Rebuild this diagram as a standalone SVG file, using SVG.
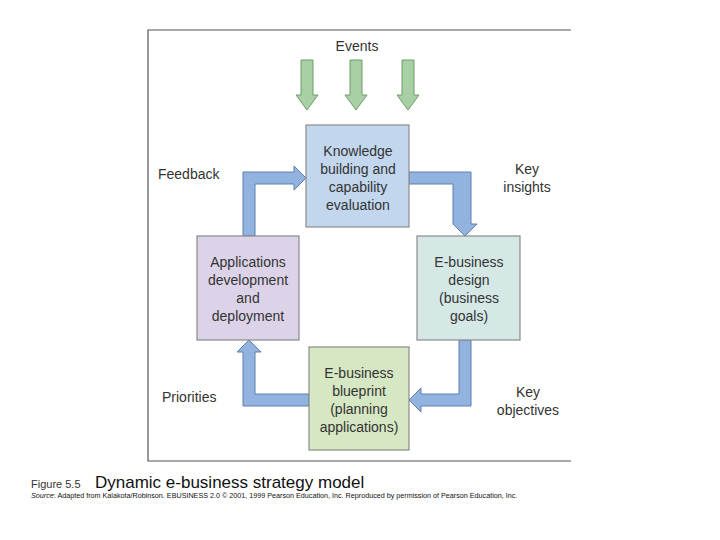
<svg xmlns="http://www.w3.org/2000/svg" width="720" height="540" viewBox="0 0 720 540">
<style>
text{font-family:"Liberation Sans",Arial,sans-serif;fill:#333}
.n{font-size:14px;text-anchor:middle}
.l{font-size:14px}
.box{stroke:#8a8a8a;stroke-width:1.2}
.ev{fill:#a9d0a4;stroke:#6f9a6b;stroke-width:1}
.fl{fill:#92b3df;stroke:#5f7fae;stroke-width:1;stroke-linejoin:miter}
</style>
<rect width="720" height="540" fill="#fff"/>
<path d="M571,30 H148 V461 H571" fill="none" stroke="#555" stroke-width="1.2"/>
<text class="n" x="357" y="51">Events</text>
<g id="connectors">
<path class="ev" d="M301,60 H313 V95 H318 L307,110 L296,95 H301 Z"/>
<path class="ev" d="M350,60 H362 V95 H367 L356,110 L345,95 H350 Z"/>
<path class="ev" d="M402,60 H414 V95 H419 L408,110 L397,95 H402 Z"/>
<path class="fl" d="M243,236 V172 H294 V166 L306,178 L294,190 V184 H255 V236 Z"/>
<path class="fl" d="M409,172 H471 V224 H477 L465,236 L453,224 V184 H409 Z"/>
<path class="fl" d="M471,340 V406 H421 V412 L409,400 L421,388 V394 H459 V340 Z"/>
<path class="fl" d="M309,394 V406 H243 V352 H237 L249,340 L261,352 H255 V394 Z"/>
</g>
<g id="knowledge"><rect class="box" x="306" y="125" width="103" height="102" fill="#c2d7ee"/>
<text class="n" x="358" y="156">Knowledge</text><text class="n" x="358" y="174">building and</text><text class="n" x="358" y="192">capability</text><text class="n" x="358" y="210">evaluation</text></g>
<g id="applications"><rect class="box" x="197" y="236" width="102" height="104" fill="#dcd3e8"/>
<text class="n" x="248" y="267">Applications</text><text class="n" x="248" y="285">development</text><text class="n" x="248" y="303">and</text><text class="n" x="248" y="321">deployment</text></g>
<g id="design"><rect class="box" x="417" y="236" width="103" height="104" fill="#d5e8e6"/>
<text class="n" x="469" y="267">E-business</text><text class="n" x="469" y="285">design</text><text class="n" x="469" y="303">(business</text><text class="n" x="469" y="321">goals)</text></g>
<g id="blueprint"><rect class="box" x="309" y="347" width="100" height="103" fill="#d6e7c3"/>
<text class="n" x="359" y="378">E-business</text><text class="n" x="359" y="396">blueprint</text><text class="n" x="359" y="414">(planning</text><text class="n" x="359" y="432">applications)</text></g>
<text class="l" x="158" y="179">Feedback</text>
<text class="n" x="527" y="174">Key</text><text class="n" x="527" y="192">insights</text>
<text class="l" x="162" y="402">Priorities</text>
<text class="n" x="528" y="397">Key</text><text class="n" x="528" y="415">objectives</text>
<text x="31" y="488" style="font-size:11px">Figure 5.5</text>
<text x="95" y="488" style="font-size:17px;fill:#111">Dynamic e-business strategy model</text>
<text x="31" y="498" style="font-size:7.2px;fill:#111"><tspan font-style="italic">Source</tspan>: Adapted from Kalakota/Robinson. EBUSINESS 2.0 © 2001, 1999 Pearson Education, Inc. Reproduced by permission of Pearson Education, Inc.</text>
</svg>
